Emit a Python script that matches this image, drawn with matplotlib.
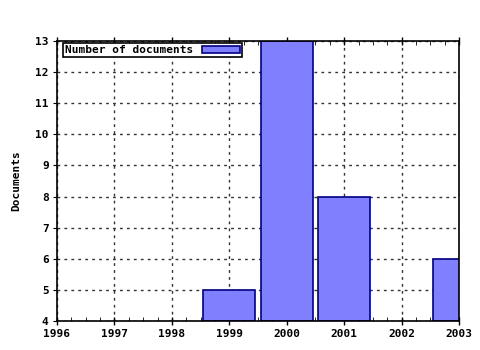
import matplotlib
matplotlib.use("Agg")
import matplotlib.pyplot as plt
from matplotlib.ticker import MultipleLocator

years = [1999, 2000, 2001, 2003]
documents = [5, 13, 8, 6]
xticks = [1996, 1997, 1998, 1999, 2000, 2001, 2002, 2003]
yticks = list(range(4, 14))

plt.rcParams['font.family'] = ['DejaVu Sans Mono']
plt.rcParams['font.weight'] = 'bold'
plt.rcParams['font.size'] = 8

fig = plt.figure(figsize=(4.8, 3.5), dpi=100)
ax = fig.add_axes([57/480, 1-321/350, (459-57)/480, (321-41)/350])

ax.bar(years, [d - 4 for d in documents], bottom=4, width=0.9,
       color='#8080ff', edgecolor='#000080', linewidth=1.2,
       label='Number of documents', zorder=2)

ax.set_xlim(1996, 2003)
ax.set_ylim(4, 13)
ax.set_xticks(xticks)
ax.set_yticks(yticks)
ax.xaxis.set_minor_locator(MultipleLocator(0.25))
ax.grid(True, which='major', linestyle=(0, (2, 3)), color='#333333', linewidth=1, zorder=0)
ax.tick_params(axis='x', which='major', direction='inout', length=6, width=1, top=True, pad=3)
ax.tick_params(axis='x', which='minor', direction='in', length=3, top=True)
ax.tick_params(axis='y', which='major', direction='out', length=3, right=False, pad=3)
for s in ax.spines.values():
    s.set_linewidth(1.2)
    s.set_zorder(3)
ax.set_ylabel('Documents', fontweight='bold', labelpad=10)
for lbl in ax.get_xticklabels() + ax.get_yticklabels():
    lbl.set_fontweight('bold')

leg = ax.legend(loc='upper left', bbox_to_anchor=(6/402, 1 - 2/280), fancybox=False,
                framealpha=1, edgecolor='black', borderpad=0.2, handlelength=3.4,
                handleheight=0.55, borderaxespad=0, markerfirst=False, handletextpad=0.8)
leg.get_frame().set_linewidth(1.2)
fig.savefig('out.png', dpi=100)
